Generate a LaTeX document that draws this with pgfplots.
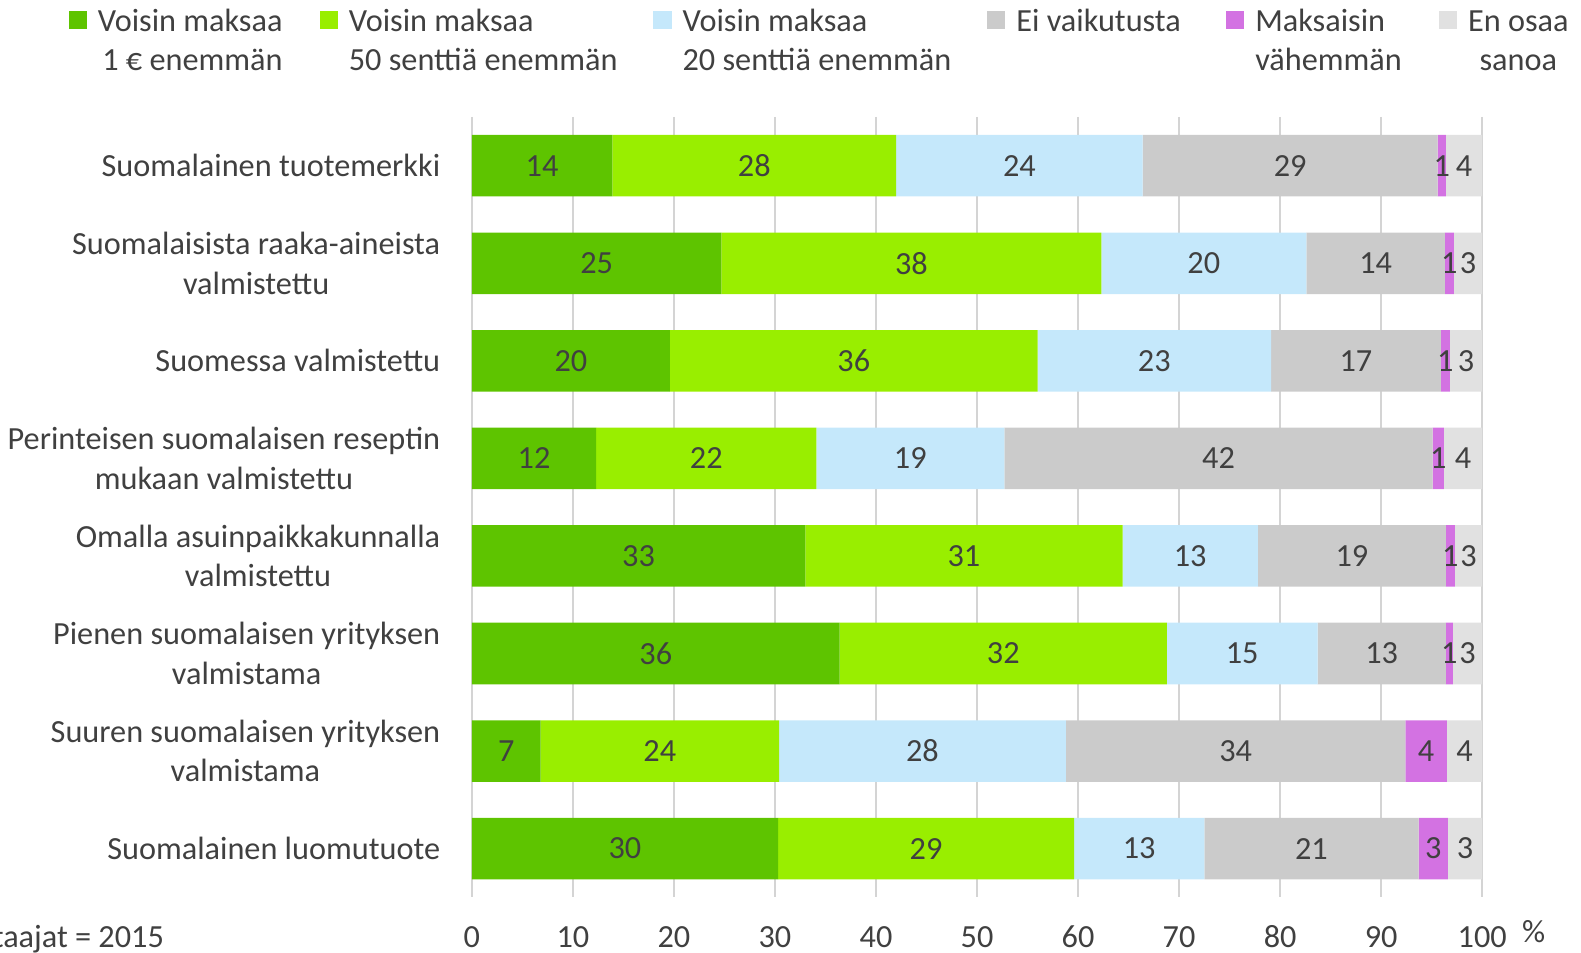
\documentclass[border=0pt]{standalone}
\usepackage{pgfplots}
\pgfplotsset{compat=1.18}
\usepackage{fontspec}
\setmainfont{Carlito}
\definecolor{cA}{HTML}{5EC400}
\definecolor{cB}{HTML}{99EE00}
\definecolor{cC}{HTML}{C5E8FB}
\definecolor{cD}{HTML}{CBCBCB}
\definecolor{cE}{HTML}{D372E2}
\definecolor{cF}{HTML}{E1E1E1}
\definecolor{txt}{HTML}{404040}
\definecolor{gridc}{HTML}{D4D4D4}
\pgfplotsset{myleg/.style={legend image code/.code={%
  \fill[##1,draw=none] (0pt,1pt) rectangle (9pt,10pt);}}}
\newcommand{\lent}[3]{\makebox[#1][l]{\hspace*{3.5pt}\begin{tabular}[t]{@{}#2@{}}#3\end{tabular}}}
\begin{document}
\fontsize{16}{19.5}\selectfont
\begin{tikzpicture}
\useasboundingbox (-234pt,-27.5pt) rectangle (550pt,445pt);
\begin{axis}[
  scale only axis, width=501pt, height=387pt,
  clip=false,
  xbar stacked, bar width=30.5pt,
  xmin=0, xmax=100, ymin=0.5, ymax=8.5, y dir=reverse,
  xtick={0,10,...,100}, ytick={1,...,8},
  yticklabels={{Suomalainen tuotemerkki},{Suomalaisista raaka-aineista\\valmistettu},{Suomessa valmistettu},{Perinteisen suomalaisen reseptin\\mukaan valmistettu},{Omalla asuinpaikkakunnalla\\valmistettu},{Pienen suomalaisen yrityksen\\valmistama},{Suuren suomalaisen yrityksen\\valmistama},{Suomalainen luomutuote}},
  xmajorgrids, grid style={draw=gridc, line width=0.7pt},
  axis line style={draw=none}, major tick style={draw=none},
  tick label style={font=\fontsize{16}{19.5}\selectfont, text=txt},
  /pgf/number format/assume math mode=true,
  xticklabel style={anchor=base, yshift=-25pt},
  yticklabel style={align=center, anchor=east, inner sep=0pt, xshift=-15.5pt},
  point meta=explicit symbolic,
  nodes near coords,
  every node near coord/.append style={anchor=center, text=txt, font=\fontsize{16}{19.5}\selectfont},
  legend columns=6,
  legend style={at={(-0.3992,1.1503)}, anchor=north west, draw=none, fill=none, inner sep=0pt, outer sep=0pt,
    font=\fontsize{16}{19.5}\selectfont, text=txt,
    cells={anchor=base west, inner sep=0pt}},
]
\addplot[fill=cA, draw=none, myleg] table[x=x, y=y, meta=lab] {
y x lab
1 13.9 14
2 24.7 25
3 19.6 20
4 12.3 12
5 33.0 33
6 36.4 36
7 6.8 7
8 30.3 30
};
\addlegendentry{\lent{111.5pt}{r}{Voisin maksaa\\1 € enemmän}}
\addplot[fill=cB, draw=none, myleg] table[x=x, y=y, meta=lab] {
y x lab
1 28.1 28
2 37.6 38
3 36.4 36
4 21.8 22
5 31.4 31
6 32.4 32
7 23.6 24
8 29.3 29
};
\addlegendentry{\lent{152.5pt}{l}{Voisin maksaa\\50 senttiä enemmän}}
\addplot[fill=cC, draw=none, myleg] table[x=x, y=y, meta=lab] {
y x lab
1 24.4 24
2 20.3 20
3 23.1 23
4 18.6 19
5 13.4 13
6 14.9 15
7 28.4 28
8 12.9 13
};
\addlegendentry{\lent{152.5pt}{l}{Voisin maksaa\\20 senttiä enemmän}}
\addplot[fill=cD, draw=none, myleg] table[x=x, y=y, meta=lab] {
y x lab
1 29.2 29
2 13.7 14
3 16.8 17
4 42.4 42
5 18.6 19
6 12.7 13
7 33.6 34
8 21.2 21
};
\addlegendentry{\lent{105.5pt}{l}{Ei vaikutusta}}
\addplot[fill=cE, draw=none, myleg] table[x=x, y=y, meta=lab] {
y x lab
1 0.8 1
2 0.9 1
3 0.9 1
4 1.1 1
5 0.9 1
6 0.7 1
7 4.1 4
8 2.9 3
};
\addlegendentry{\lent{92.5pt}{l}{Maksaisin\\vähemmän}}
\addplot[fill=cF, draw=none, myleg] table[x=x, y=y, meta=lab] {
y x lab
1 3.6 4
2 2.8 3
3 3.2 3
4 3.8 4
5 2.7 3
6 2.9 3
7 3.5 4
8 3.4 3
};
\addlegendentry{\lent{52pt}{c}{En osaa\\sanoa}}
\node[anchor=base, inner sep=0pt, text=txt] at (axis description cs:1.051,0) [yshift=-22.5pt] {\%};
\node[anchor=base east, inner sep=0pt, text=txt] at (axis description cs:0,0) [xshift=-152.5pt, yshift=-25pt] {Vastaajat = 2015};
\end{axis}
\end{tikzpicture}
\end{document}
